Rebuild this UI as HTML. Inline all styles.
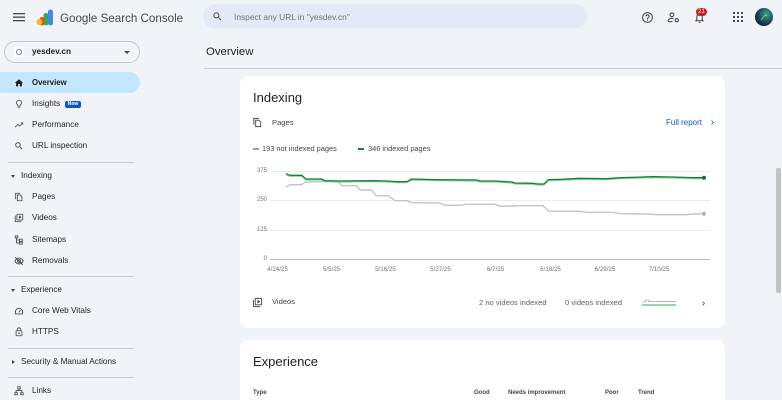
<!DOCTYPE html>
<html><head><meta charset="utf-8">
<style>
*{box-sizing:border-box;margin:0;padding:0}
html,body{width:782px;height:400px;overflow:hidden;background:#f0f4f9;font-family:"Liberation Sans",sans-serif;color:#1f1f1f}
body{position:relative}
.a{position:absolute;white-space:nowrap}
.nav{position:absolute;left:32px;font-size:8.2px;height:12px;line-height:12px;color:#1f1f1f;white-space:nowrap}
.ic{position:absolute;left:14px;width:10px;height:10px}
.sec{position:absolute;left:21px;font-size:8.2px;height:12px;line-height:12px;color:#1f1f1f;white-space:nowrap}
.tri{position:absolute;left:11px;width:0;height:0;border-left:2.5px solid transparent;border-right:2.5px solid transparent;border-top:3px solid #444746}
.trir{position:absolute;left:12px;width:0;height:0;border-top:2.5px solid transparent;border-bottom:2.5px solid transparent;border-left:3px solid #444746}
.dv{position:absolute;left:8px;width:126px;height:1px;background:#c7c9cc}
.card{position:absolute;left:240px;width:485px;background:#fff;border-radius:8px}
.yl{position:absolute;left:240px;width:27px;text-align:right;font-size:6px;color:#6f7276;height:8px;line-height:8px}
.xl{position:absolute;width:40px;text-align:center;font-size:6.2px;color:#6f7276;height:8px;line-height:8px;top:266px}
.th{position:absolute;top:389px;font-size:6px;font-weight:bold;color:#444746;height:8px;line-height:8px;white-space:nowrap}
svg{display:block}
</style></head><body>

<!-- Header -->
<svg class="a" style="left:13px;top:12px" width="12" height="10" viewBox="0 0 12 10"><rect x="0" y="1" width="12" height="1.3" fill="#444746"/><rect x="0" y="4.5" width="12" height="1.3" fill="#444746"/><rect x="0" y="8" width="12" height="1.3" fill="#444746"/></svg>
<svg class="a" style="left:36px;top:9px" width="18" height="17" viewBox="0 0 18 17">
  <rect x="12" y="0.5" width="5" height="16" rx="2.5" fill="#4285f4"/>
  <rect x="7.5" y="4" width="5" height="12.5" rx="2.5" fill="#34a853"/>
  <rect x="3.5" y="8" width="5" height="8.5" rx="2.5" fill="#ea4335"/>
  <circle cx="3.5" cy="13" r="3" fill="#fbbc04"/>
</svg>
<div class="a" style="left:60px;top:11px;font-size:11.6px;line-height:15px;color:#444746">Google Search Console</div>

<div class="a" style="left:203px;top:4px;width:384px;height:25px;border-radius:13px;background:#e3eaf6"></div>
<svg class="a" style="left:212px;top:11px" width="11" height="11" viewBox="0 0 24 24"><path fill="#444746" d="M15.5 14h-.79l-.28-.27C15.41 12.59 16 11.11 16 9.5 16 5.91 13.09 3 9.5 3S3 5.91 3 9.5 5.91 16 9.5 16c1.61 0 3.090-.59 4.23-1.57l.27.28v.79l5 4.99L20.49 19l-4.99-5zm-6 0C7.01 14 5 11.99 5 9.5S7.01 5 9.5 5 14 7.01 14 9.5 11.99 14 9.5 14z"/></svg>
<div class="a" style="left:234px;top:11px;font-size:8.4px;line-height:12px;color:#6f7276">Inspect any URL in "yesdev.cn"</div>

<svg class="a" style="left:641px;top:11px" width="13" height="13" viewBox="0 0 24 24"><path fill="#444746" d="M11 18h2v-2h-2v2zm1-16C6.48 2 2 6.48 2 12s4.48 10 10 10 10-4.48 10-10S17.52 2 12 2zm0 18c-4.41 0-8-3.59-8-8s3.59-8 8-8 8 3.59 8 8-3.59 8-8 8zm0-14c-2.21 0-4 1.79-4 4h2c0-1.1.9-2 2-2s2 .9 2 2c0 2-3 1.75-3 5h2c0-2.25 3-2.5 3-5 0-2.21-1.79-4-4-4z"/></svg>
<svg class="a" style="left:667px;top:11px" width="13" height="13" viewBox="0 0 24 24"><circle cx="9" cy="7" r="3.5" fill="none" stroke="#444746" stroke-width="2"/><path d="M2 19c0-3.5 3-5.5 7-5.5 1.2 0 2.2.2 3 .5" fill="none" stroke="#444746" stroke-width="2"/><circle cx="18" cy="17" r="3" fill="none" stroke="#444746" stroke-width="2"/><path d="M2 19.5h8" stroke="#444746" stroke-width="2"/></svg>
<svg class="a" style="left:693px;top:11px" width="13" height="13" viewBox="0 0 24 24"><path fill="#444746" d="M12 22c1.1 0 2-.9 2-2h-4c0 1.1.89 2 2 2zm6-6v-5c0-3.07-1.64-5.64-4.5-6.32V4c0-.83-.67-1.5-1.5-1.5s-1.5.67-1.5 1.5v.68C7.63 5.36 6 7.92 6 11v5l-2 2v1h16v-1l-2-2zm-2 1H8v-6c0-2.48 1.51-4.5 4-4.5s4 2.02 4 4.5v6z"/></svg>
<div class="a" style="left:696px;top:8px;width:11px;height:8px;border-radius:4px;background:#c5221f;color:#fff;font-size:6px;line-height:8px;text-align:center">21</div>
<svg class="a" style="left:733px;top:12px" width="10" height="10" viewBox="0 0 10 10" fill="#444746"><rect x="0" y="0" width="2" height="2"/><rect x="4" y="0" width="2" height="2"/><rect x="8" y="0" width="2" height="2"/><rect x="0" y="4" width="2" height="2"/><rect x="4" y="4" width="2" height="2"/><rect x="8" y="4" width="2" height="2"/><rect x="0" y="8" width="2" height="2"/><rect x="4" y="8" width="2" height="2"/><rect x="8" y="8" width="2" height="2"/></svg>
<svg class="a" style="left:755px;top:8px" width="18" height="18" viewBox="0 0 18 18"><defs><radialGradient id="av" cx="0.65" cy="0.35" r="0.7"><stop offset="0" stop-color="#3fa38a"/><stop offset="0.6" stop-color="#1e4d5c"/><stop offset="1" stop-color="#0d2233"/></radialGradient></defs><circle cx="9" cy="9" r="9" fill="url(#av)"/><path d="M6 12l4-5 2 1" stroke="#7fd6a8" stroke-width="0.8" fill="none"/></svg>

<!-- Property selector -->
<div class="a" style="left:4px;top:41px;width:136px;height:22px;border:1px solid #c4c7c5;border-radius:11px"></div>
<div class="a" style="left:14px;top:47px;width:10px;height:10px;background:#fff;border-radius:2px"></div>
<div class="a" style="left:16px;top:49px;width:6px;height:6px;border:1.6px solid #4a7ef0;border-radius:50%"></div>
<div class="a" style="left:32px;top:46px;font-size:8.2px;font-weight:bold;line-height:12px;color:#1f1f1f">yesdev.cn</div>
<div class="a" style="left:124px;top:51px;width:0;height:0;border-left:3px solid transparent;border-right:3px solid transparent;border-top:3px solid #444746"></div>

<!-- Sidebar -->
<div class="a" style="left:0;top:72px;width:140px;height:21px;background:#c2e7ff;border-radius:0 11px 11px 0"></div>
<svg class="ic" style="top:78px" viewBox="0 0 24 24"><path fill="#1f1f1f" d="M10 20v-6h4v6h5v-8h3L12 3 2 12h3v8z"/></svg>
<div class="nav" style="top:77px;font-weight:bold;font-size:7.8px">Overview</div>

<svg class="ic" style="top:99px" viewBox="0 0 24 24"><path fill="#444746" d="M9 21c0 .55.45 1 1 1h4c.55 0 1-.45 1-1v-1H9v1zm3-19C8.14 2 5 5.14 5 9c0 2.38 1.19 4.47 3 5.74V17c0 .55.45 1 1 1h6c.55 0 1-.45 1-1v-2.26c1.81-1.27 3-3.36 3-5.74 0-3.86-3.14-7-7-7zm2.85 11.1l-.85.6V16h-4v-2.3l-.85-.6A4.997 4.997 0 0 1 7 9c0-2.76 2.24-5 5-5s5 2.24 5 5c0 1.63-.8 3.16-2.15 4.1z"/></svg>
<div class="nav" style="top:98px">Insights</div>
<div class="a" style="left:65px;top:100.5px;width:16px;height:7px;background:#0b57d0;border-radius:2px;color:#fff;font-size:5.2px;font-weight:bold;line-height:7px;text-align:center">New</div>

<svg class="ic" style="top:120px" viewBox="0 0 24 24"><path fill="#444746" d="M16 6l2.29 2.29-4.88 4.88-4-4L2 16.59 3.41 18l6-6 4 4 6.3-6.29L22 12V6z"/></svg>
<div class="nav" style="top:119px">Performance</div>

<svg class="ic" style="top:141px" viewBox="0 0 24 24"><path fill="#444746" d="M15.5 14h-.79l-.28-.27C15.41 12.59 16 11.11 16 9.5 16 5.91 13.09 3 9.5 3S3 5.91 3 9.5 5.91 16 9.5 16c1.61 0 3.09-.59 4.23-1.57l.27.28v.79l5 4.99L20.49 19l-4.99-5zm-6 0C7.01 14 5 11.99 5 9.5S7.01 5 9.5 5 14 7.01 14 9.5 11.99 14 9.5 14z"/></svg>
<div class="nav" style="top:140px">URL inspection</div>

<div class="dv" style="top:162px"></div>
<div class="tri" style="top:174.5px"></div>
<div class="sec" style="top:170px">Indexing</div>

<svg class="ic" style="top:192px" viewBox="0 0 24 24"><path fill="none" stroke="#444746" stroke-width="2" d="M4 17V3h11M8 7h7l4 4v10H8z"/></svg>
<div class="nav" style="top:191px">Pages</div>

<svg class="ic" style="top:213px" viewBox="0 0 24 24"><path fill="#444746" d="M4 6H2v14c0 1.1.9 2 2 2h14v-2H4V6zm16-4H8c-1.1 0-2 .9-2 2v12c0 1.1.9 2 2 2h12c1.1 0 2-.9 2-2V4c0-1.1-.9-2-2-2zm0 14H8V4h12v12zM12 5.5v9l6-4.5z"/></svg>
<div class="nav" style="top:212px">Videos</div>

<svg class="ic" style="top:235px" viewBox="0 0 24 24"><g fill="none" stroke="#444746" stroke-width="2"><rect x="3" y="2" width="6" height="5"/><rect x="13" y="10" width="7" height="5"/><rect x="13" y="17" width="7" height="5"/><path d="M6 7v12h7M6 12h7"/></g></svg>
<div class="nav" style="top:234px">Sitemaps</div>

<svg class="ic" style="top:256px" viewBox="0 0 24 24"><g fill="none" stroke="#444746" stroke-width="2.2"><path d="M2 12c2.5-4.5 6-7 10-7s7.5 2.5 10 7c-2.5 4.5-6 7-10 7s-7.5-2.5-10-7z"/><circle cx="12" cy="12" r="3.5"/><path d="M3 3l18 18"/></g></svg>
<div class="nav" style="top:255px">Removals</div>

<div class="dv" style="top:276px"></div>
<div class="tri" style="top:288.5px"></div>
<div class="sec" style="top:284px">Experience</div>

<svg class="ic" style="top:306px" viewBox="0 0 24 24"><g fill="none" stroke="#444746" stroke-width="2.2"><path d="M4 19a9 9 0 1 1 16 0z"/><path d="M12 15l4-5"/></g></svg>
<div class="nav" style="top:305px">Core Web Vitals</div>

<svg class="ic" style="top:327px" viewBox="0 0 24 24"><path fill="#444746" d="M18 8h-1V6c0-2.76-2.24-5-5-5S7 3.24 7 6v2H6c-1.1 0-2 .9-2 2v10c0 1.1.9 2 2 2h12c1.1 0 2-.9 2-2V10c0-1.1-.9-2-2-2zM9 6c0-1.66 1.34-3 3-3s3 1.34 3 3v2H9V6zm9 14H6V10h12v10zm-6-3c1.1 0 2-.9 2-2s-.9-2-2-2-2 .9-2 2 .9 2 2 2z"/></svg>
<div class="nav" style="top:326px">HTTPS</div>

<div class="dv" style="top:348px"></div>
<div class="trir" style="top:359.5px"></div>
<div class="sec" style="top:356px">Security &amp; Manual Actions</div>
<div class="dv" style="top:377px"></div>

<svg class="ic" style="top:386px" viewBox="0 0 24 24"><g fill="none" stroke="#444746" stroke-width="2"><rect x="9" y="2" width="6" height="5"/><rect x="2" y="16" width="6" height="5"/><rect x="16" y="16" width="6" height="5"/><path d="M12 7v4M5 16v-5h14v5"/></g></svg>
<div class="nav" style="top:385px">Links</div>

<!-- Main header -->
<div class="a" style="left:206px;top:44px;font-size:11.4px;line-height:16px;color:#1f1f1f">Overview</div>
<div class="a" style="left:204px;top:68px;width:578px;height:1px;background:#c7c9cc"></div>

<!-- Scrollbar -->
<div class="a" style="left:776px;top:168px;width:5px;height:125px;background:#c1c1c1;border-radius:2px"></div>

<!-- Card 1 -->
<div class="card" style="top:76px;height:252px"></div>
<div class="a" style="left:253px;top:89px;font-size:13px;line-height:17px;color:#1f1f1f">Indexing</div>
<svg class="a" style="left:252px;top:117px" width="11" height="11" viewBox="0 0 24 24"><path fill="none" stroke="#444746" stroke-width="2" d="M4 17V3h11M8 7h7l4 4v10H8z"/></svg>
<div class="a" style="left:272px;top:117px;font-size:7.6px;line-height:12px;color:#444746">Pages</div>
<div class="a" style="left:666px;top:117px;font-size:8px;line-height:12px;color:#0b57d0">Full report</div>
<svg class="a" style="left:708px;top:118px" width="9" height="9" viewBox="0 0 24 24"><path fill="#0b57d0" d="M10 6L8.59 7.41 13.17 12l-4.58 4.59L10 18l6-6z"/></svg>

<div class="a" style="left:253px;top:148.3px;width:6px;height:1.6px;background:#9aa0a6"></div>
<div class="a" style="left:262px;top:143px;font-size:7.4px;line-height:12px;color:#444746">193 not indexed pages</div>
<div class="a" style="left:358px;top:148.3px;width:6px;height:1.6px;background:#188038"></div>
<div class="a" style="left:368px;top:143px;font-size:7.4px;line-height:12px;color:#444746">346 indexed pages</div>

<div class="yl" style="top:167px">375</div>
<div class="yl" style="top:196.3px">250</div>
<div class="yl" style="top:226px">125</div>
<div class="yl" style="top:255px">0</div>

<div class="xl" style="left:257.5px">4/24/25</div>
<div class="xl" style="left:311.5px">5/5/25</div>
<div class="xl" style="left:365.5px">5/16/25</div>
<div class="xl" style="left:420.5px">5/27/25</div>
<div class="xl" style="left:475.5px">6/7/25</div>
<div class="xl" style="left:530.5px">6/18/25</div>
<div class="xl" style="left:585px">6/29/25</div>
<div class="xl" style="left:639px">7/10/25</div>

<svg class="a" style="left:0;top:0" width="782" height="400" viewBox="0 0 782 400">
  <g stroke-width="1">
    <line x1="270" y1="171.5" x2="710" y2="171.5" stroke="#ececec"/>
    <line x1="270" y1="200.5" x2="710" y2="200.5" stroke="#ececec"/>
    <line x1="270" y1="230.5" x2="710" y2="230.5" stroke="#ececec"/>
    <line x1="270" y1="259.5" x2="710" y2="259.5" stroke="#bdbdbd"/>
  </g>
  <polyline fill="none" stroke="#c4c4c4" stroke-width="1.4" stroke-linejoin="round" points="286,187.3 290,184.7 301.7,184.7 305,182 321.7,181.7 337.3,181 341.7,185.7 356.7,185.7 360,190 371.7,190 376,195.7 388.3,195.7 395,200.7 406.7,200.7 411.7,202.7 440,203 445,205.3 460,205.3 466.7,204.3 495,204.3 500,206.3 513,206 520,205.7 543,205.7 549,211.3 580,211.3 586.7,212.3 613,212.3 620,213.7 646.7,214 656.7,214.7 686.7,214.7 693,214 704,213.7"/>
  <polyline fill="none" stroke="#8fcfa3" stroke-width="1.4" stroke-linejoin="round" transform="translate(0,0.9)" points="286,173.7 290,175.3 301.7,175.3 306,179 321.7,179 325,180.7 338,181 373,180.7 388,181 396.7,181.7 406.7,181.7 411.7,179 436.7,179.7 476.7,180 480,181 495,181 511.7,182 515,183 533,183.3 538,184 544,184 548.3,179.7 561.7,179.3 580,178.3 606.7,178.7 620,177.7 653,176.7 673,177 693,177.7 704,177.7"/>
  <polyline fill="none" stroke="#188038" stroke-width="1.3" stroke-linejoin="round" points="286,173.7 290,175.3 301.7,175.3 306,179 321.7,179 325,180.7 338,181 373,180.7 388,181 396.7,181.7 406.7,181.7 411.7,179 436.7,179.7 476.7,180 480,181 495,181 511.7,182 515,183 533,183.3 538,184 544,184 548.3,179.7 561.7,179.3 580,178.3 606.7,178.7 620,177.7 653,176.7 673,177 693,177.7 704,177.7"/>
  <circle cx="704" cy="213.7" r="2" fill="#b5b5b5"/>
  <circle cx="704" cy="177.7" r="2" fill="#137333"/>
  <polyline fill="none" stroke="#9aa0a6" stroke-width="0.8" points="642,302 645,302 646,300 648,300 649,301.5 676,301.5"/>
  <line x1="642" y1="305" x2="676" y2="305" stroke="#34a853" stroke-width="1"/>
</svg>

<svg class="a" style="left:252px;top:297px" width="11" height="11" viewBox="0 0 24 24"><path fill="#444746" d="M4 6H2v14c0 1.1.9 2 2 2h14v-2H4V6zm16-4H8c-1.1 0-2 .9-2 2v12c0 1.1.9 2 2 2h12c1.1 0 2-.9 2-2V4c0-1.1-.9-2-2-2zm0 14H8V4h12v12zM12 5.5v9l6-4.5z"/></svg>
<div class="a" style="left:272px;top:296px;font-size:7.6px;line-height:12px;color:#444746">Videos</div>
<div class="a" style="left:479px;top:297px;font-size:7.6px;line-height:12px;color:#5f6368">2 no videos indexed</div>
<div class="a" style="left:565px;top:297px;font-size:7.6px;line-height:12px;color:#5f6368">0 videos indexed</div>
<svg class="a" style="left:699px;top:298.5px" width="9" height="9" viewBox="0 0 24 24"><path fill="#0b57d0" d="M10 6L8.59 7.41 13.17 12l-4.58 4.59L10 18l6-6z"/></svg>

<!-- Card 2 (clipped at page bottom) -->
<div class="card" style="top:340px;height:60px;border-radius:8px 8px 0 0"></div>
<div class="a" style="left:253px;top:353px;font-size:13px;line-height:17px;color:#1f1f1f">Experience</div>
<div class="th" style="left:253px">Type</div>
<div class="th" style="left:474px">Good</div>
<div class="th" style="left:508px">Needs improvement</div>
<div class="th" style="left:605px">Poor</div>
<div class="th" style="left:638px">Trend</div>

</body></html>
